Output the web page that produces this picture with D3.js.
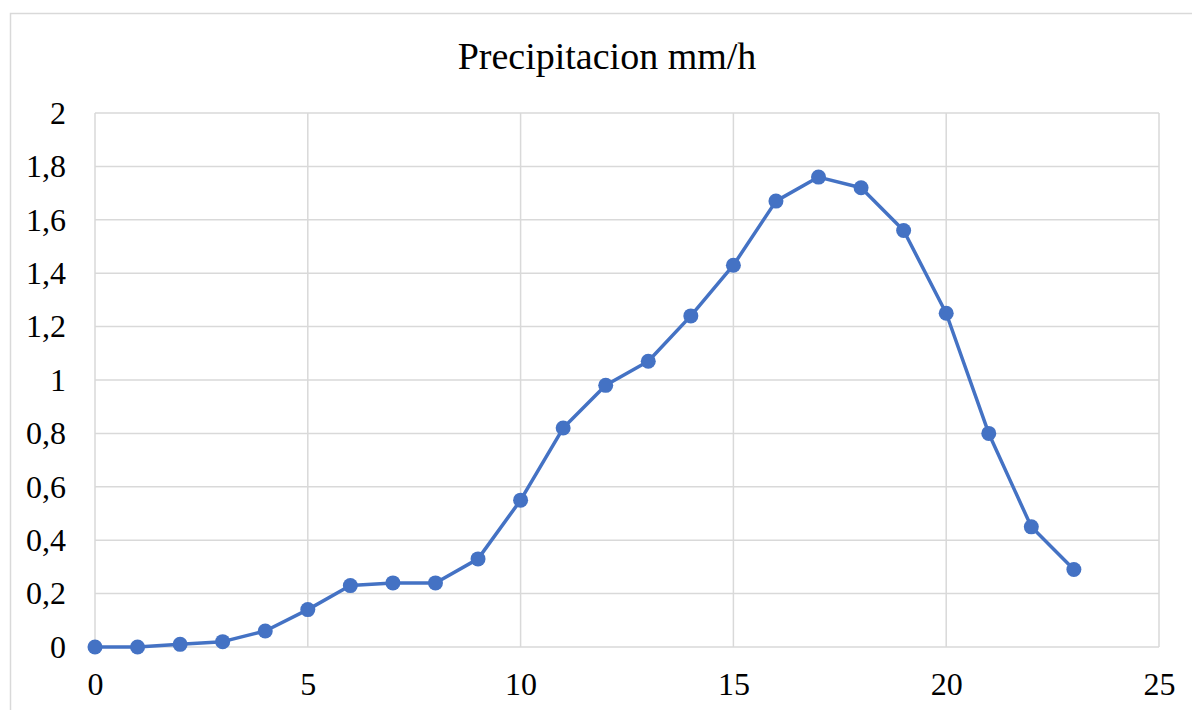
<!DOCTYPE html>
<html>
<head>
<meta charset="utf-8">
<script src="https://cdnjs.cloudflare.com/ajax/libs/d3/7.8.5/d3.min.js"></script>
<style>
  body { margin: 0; background: #fff; }
  text { font-family: "Liberation Serif", "Times New Roman", serif; fill: #000; }
</style>
</head>
<body>
<div id="graph"></div>
<script>
// hours and precipitation values
var hours = [0, 1, 2, 3, 4, 5, 6, 7, 8, 9, 10, 11, 12, 13, 14, 15, 16, 17, 18, 19, 20, 21, 22, 23];
var precip = [0, 0, 0.01, 0.02, 0.06, 0.14, 0.23, 0.24, 0.24, 0.33, 0.55, 0.82, 0.98, 1.07, 1.24, 1.43, 1.67, 1.76, 1.72, 1.56, 1.25, 0.80, 0.45, 0.29];
var xTicks = [0, 5, 10, 15, 20, 25];
var yTicks = [0, 0.2, 0.4, 0.6, 0.8, 1, 1.2, 1.4, 1.6, 1.8, 2];
var title = "Precipitacion mm/h";

var width = 1192, height = 710;
var margin = { left: 95, top: 113, right: 1192 - 1159, bottom: 710 - 647 };

var svg = d3.select('#graph')
    .append('svg')
    .attr('width', width)
    .attr('height', height);

// outer chart border (runs off the right and bottom edges)
svg.append('rect')
    .attr('x', 10.5).attr('y', 13.5)
    .attr('width', 1200).attr('height', 800)
    .attr('fill', 'none')
    .attr('stroke', '#d9d9d9')
    .attr('stroke-width', 1.5);

var x = d3.scaleLinear()
    .domain([0, 25])
    .range([margin.left, width - margin.right]);

var y = d3.scaleLinear()
    .domain([0, 2])
    .range([height - margin.bottom, margin.top]);

var fmt = function(d) { return d3.format('~g')(d).replace('.', ','); };

// gridlines
svg.append('g').selectAll('line.h')
    .data(yTicks).enter()
    .append('line')
    .attr('x1', x(0)).attr('x2', x(25))
    .attr('y1', d => y(d)).attr('y2', d => y(d))
    .attr('stroke', '#d9d9d9').attr('stroke-width', 1.5);

svg.append('g').selectAll('line.v')
    .data(xTicks).enter()
    .append('line')
    .attr('y1', y(0)).attr('y2', y(2))
    .attr('x1', d => x(d)).attr('x2', d => x(d))
    .attr('stroke', '#d9d9d9').attr('stroke-width', 1.5);

// axis labels
var yAxis = d3.axisLeft(y).tickValues(yTicks).tickFormat(fmt).tickSize(0).tickPadding(29);
svg.append('g')
    .attr('transform', 'translate(' + x(0) + ',0)')
    .call(yAxis)
    .call(g => g.select('.domain').remove())
    .selectAll('text')
    .style('font-size', '32px')
    .style('font-family', '"Liberation Serif", serif');

var xAxis = d3.axisBottom(x).tickValues(xTicks).tickFormat(fmt).tickSize(0).tickPadding(25);
svg.append('g')
    .attr('transform', 'translate(0,' + y(0) + ')')
    .call(xAxis)
    .call(g => g.select('.domain').remove())
    .selectAll('text')
    .style('font-size', '32px')
    .style('font-family', '"Liberation Serif", serif');

// title, centred over the whole chart area
svg.append('text')
    .attr('x', 607)
    .attr('y', 69)
    .attr('text-anchor', 'middle')
    .style('font-size', '38px')
    .text(title);

// series
var pts = hours.map((h, i) => ({ h: h, v: precip[i] }));

svg.append('path')
    .datum(pts)
    .attr('fill', 'none')
    .attr('stroke', '#4472c4')
    .attr('stroke-width', 3.5)
    .attr('stroke-linejoin', 'round')
    .attr('d', d3.line().x(d => x(d.h)).y(d => y(d.v)));

svg.append('g').selectAll('circle')
    .data(pts).enter()
    .append('circle')
    .attr('cx', d => x(d.h))
    .attr('cy', d => y(d.v))
    .attr('r', 7.5)
    .attr('fill', '#4472c4');
</script>
</body>
</html>
